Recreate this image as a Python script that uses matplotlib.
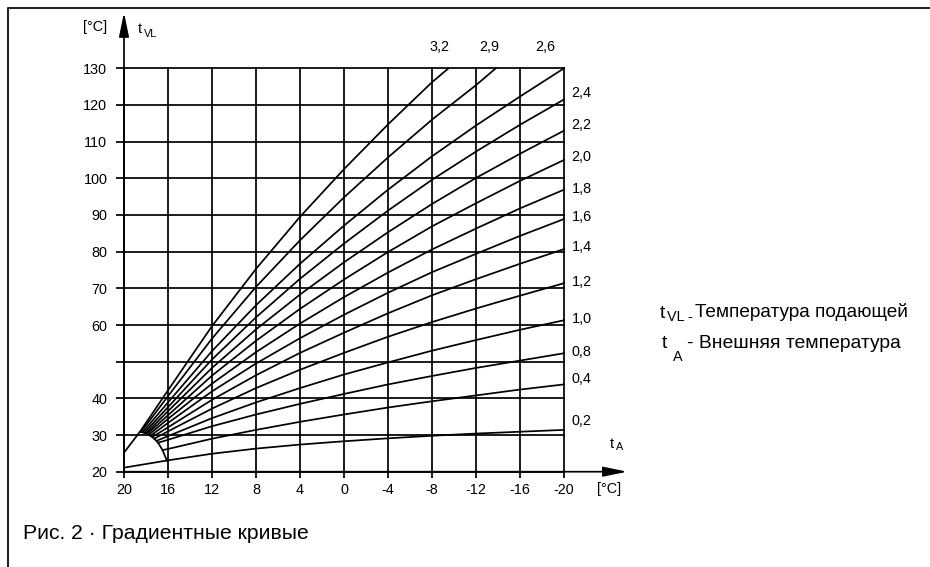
import matplotlib
matplotlib.use('Agg')
import matplotlib.pyplot as plt
from matplotlib.lines import Line2D

plt.rcParams['font.family'] = ['Liberation Sans', 'DejaVu Sans']

W, H = 930, 567

# axis ticks
t_ticks = [20, 16, 12, 8, 4, 0, -4, -8, -12, -16, -20]
t_labels = ['20', '16', '12', '8', '4', '0', '-4', '-8', '-12', '-16', '-20']
vl_ticks = [20, 30, 40, 50, 60, 70, 80, 90, 100, 110, 120, 130]
vl_labels = ['20', '30', '40', '', '60', '70', '80', '90', '100', '110', '120', '130']

# heating curves: outside temp t_A -> flow temp t_VL
grid_t = [16, 12, 8, 4, 0, -4, -8, -12, -16, -20]

c32_t = [18.55, 16, 12, 8, 4, 0, -4, -8, -9.5]
c32_vl = [30.9, 42.2, 59.7, 75.3, 89.5, 102.5, 114.7, 126.2, 130]
c29_t = [18.45, 16, 12, 8, 4, 0, -4, -8, -12, -13.8]
c29_vl = [30.85, 40.6, 56.3, 70.4, 83.1, 94.8, 105.7, 116.0, 125.4, 130]
c26_t = [18.3] + grid_t
c26_vl = [30.75, 38.9, 52.9, 65.4, 76.7, 87.1, 96.9, 106.0, 114.4, 122.3, 130]
c24_t = [18.15] + grid_t
c24_vl = [30.6, 37.6, 50.6, 62.1, 72.6, 82.2, 91.2, 99.6, 107.3, 114.6, 121.5]
c22_t = [18.0] + grid_t
c22_vl = [30.5, 36.5, 48.3, 58.8, 68.3, 77.1, 85.3, 93.0, 100.1, 106.7, 113.0]
c20_t = [17.9] + grid_t
c20_vl = [30.3, 35.4, 46.2, 55.7, 64.4, 72.4, 79.9, 86.9, 93.2, 99.3, 105.0]
c18_t = [17.75] + grid_t
c18_vl = [30.1, 34.4, 44.0, 52.6, 60.4, 67.6, 74.3, 80.6, 86.3, 91.8, 96.9]
c16_t = [17.6] + grid_t
c16_vl = [29.8, 33.3, 41.9, 49.5, 56.4, 62.8, 68.8, 74.4, 79.4, 84.3, 88.9]
c14_t = [17.4] + grid_t
c14_vl = [29.5, 32.1, 39.6, 46.3, 52.4, 57.9, 63.2, 68.1, 72.5, 76.7, 80.7]
c12_t = [17.25] + grid_t
c12_vl = [29.0, 31.0, 37.2, 42.8, 47.8, 52.4, 56.8, 60.8, 64.5, 68.0, 71.4]
c10_t = [17.05] + grid_t
c10_vl = [28.4, 29.7, 34.6, 38.9, 42.8, 46.5, 49.8, 53.0, 55.9, 58.7, 61.3]
c08_t = [16.9] + grid_t
c08_vl = [27.9, 28.7, 32.4, 35.6, 38.5, 41.2, 43.8, 46.1, 48.3, 50.3, 52.3]
c04_t = [16.5] + grid_t
c04_vl = [25.9, 26.2, 29.0, 31.4, 33.6, 35.6, 37.5, 39.2, 40.8, 42.4, 43.8]
c02_t = [20] + grid_t
c02_vl = [21.1, 23.1, 24.9, 26.3, 27.4, 28.3, 29.1, 29.8, 30.4, 30.9, 31.4]

# start boundary (line from the axis + arc where the curves begin)
bnd_t = [20, 18.55, 18.0, 17.6, 17.25, 16.9, 16.5, 16.25, 16.1]
bnd_vl = [25.2, 30.9, 30.5, 29.8, 29.0, 27.9, 25.9, 24.1, 23.0]

curves = [(c32_t, c32_vl), (c29_t, c29_vl), (c26_t, c26_vl), (c24_t, c24_vl),
          (c22_t, c22_vl), (c20_t, c20_vl), (c18_t, c18_vl), (c16_t, c16_vl),
          (c14_t, c14_vl), (c12_t, c12_vl), (c10_t, c10_vl), (c08_t, c08_vl),
          (c04_t, c04_vl), (c02_t, c02_vl)]

top_names = ['3,2', '2,9', '2,6']
right_names = ['2,4', '2,2', '2,0', '1,8', '1,6', '1,4', '1,2', '1,0', '0,8', '0,4', '0,2']

# label placement (pixels in the picture)
top_px = [439, 489, 545]
right_py = [93, 125, 157, 189, 217, 247, 282.5, 319.5, 352, 379.5, 421]

LW = 1.25

fig = plt.figure(figsize=(W / 100, H / 100), dpi=100)
ax = fig.add_axes([124 / W, 1 - 471.7 / H, 440 / W, (471.7 - 68.3) / H])
ax.set_xlim(20, -20)
ax.set_ylim(20, 130)
for s in ax.spines.values():
    s.set_visible(False)

ax.set_xticks(t_ticks, t_labels)
ax.set_yticks(vl_ticks, vl_labels)
ax.tick_params(axis='x', direction='out', length=4.6, width=LW, pad=3.5, labelsize=10.4)
ax.tick_params(axis='y', direction='out', length=5.8, width=LW, pad=6.2, labelsize=10.4)
ax.grid(True, color='black', lw=LW)
for gl in ax.get_xgridlines() + ax.get_ygridlines():
    gl.set_clip_on(False)

for t, vl in curves:
    ax.plot(t, vl, color='black', lw=LW, clip_on=False, solid_joinstyle='round')
ax.plot(bnd_t, bnd_vl, color='black', lw=LW, clip_on=False)

# axes with arrows
arrow = dict(arrowstyle='-|>,head_length=1.45,head_width=0.3', color='black',
             lw=LW, shrinkA=0, shrinkB=0)
ax.annotate('', xy=(20, 145.2), xytext=(20, 20), arrowprops=arrow, annotation_clip=False)
ax.annotate('', xy=(-25.75, 20), xytext=(20, 20), arrowprops=arrow, annotation_clip=False)


def px_text(x, y, s, **kw):
    fig.text(x / W, 1 - y / H, s, **kw)


def to_t(px):
    return 20 - (px - 124) / 11.0


def to_vl(py):
    return 20 + (471.7 - py) / 3.667


for name, px in zip(top_names, top_px):
    ax.text(to_t(px), to_vl(46.7), name, ha='center', va='center', fontsize=10.4, clip_on=False)
for name, py in zip(right_names, right_py):
    ax.text(to_t(571.7), to_vl(py), name, ha='left', va='center', fontsize=10.4, clip_on=False)

# axis captions
px_text(95, 27.5, '[°C]', ha='center', va='center', fontsize=10.4)
px_text(138, 33.3, 't', ha='left', va='baseline', fontsize=10.4)
px_text(143.5, 36.7, 'VL', ha='left', va='baseline', fontsize=7.8)
px_text(609, 489, '[°C]', ha='center', va='center', fontsize=10.4)
px_text(610, 448.3, 't', ha='left', va='baseline', fontsize=10.4)
px_text(615.5, 450.5, 'A', ha='left', va='baseline', fontsize=7.8)

# legend on the right
px_text(660, 318.3, 't', ha='left', va='baseline', fontsize=13.9)
px_text(666.5, 321, 'VL -', ha='left', va='baseline', fontsize=10.4)
px_text(694.5, 316.7, 'Температура подающей', ha='left', va='baseline', fontsize=13.7)
px_text(661.5, 348.3, 't', ha='left', va='baseline', fontsize=13.9)
px_text(673, 360.7, 'A', ha='left', va='baseline', fontsize=10.4)
px_text(686.5, 348.3, '- Внешняя температура', ha='left', va='baseline', fontsize=13.9)

px_text(22.7, 539, 'Рис. 2 · Градиентные кривые', ha='left', va='baseline', fontsize=15.2)

# frame of the figure
fig.add_artist(Line2D([7.5 / W, 7.5 / W, 1], [0, 1 - 8.3 / H, 1 - 8.3 / H],
                      transform=fig.transFigure, color='0.15', lw=1.5))

fig.savefig('out.png', dpi=100)
